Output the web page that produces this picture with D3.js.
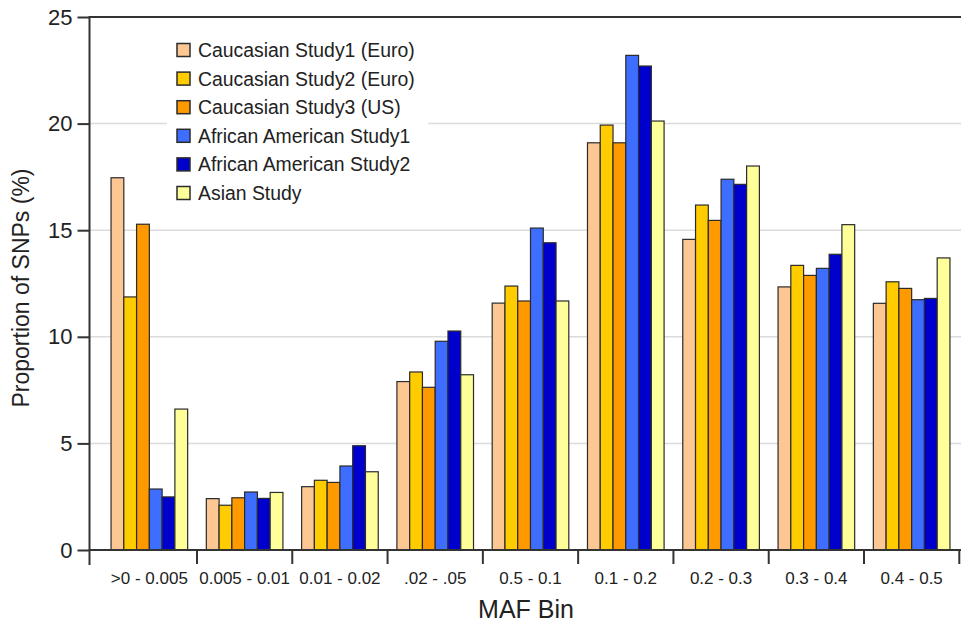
<!DOCTYPE html>
<html>
<head>
<meta charset="utf-8">
<script src="https://cdn.jsdelivr.net/npm/d3@7"></script>
<style>
  body { margin: 0; background: #fff; }
  svg { font-family: 'Liberation Sans', Arial, sans-serif; }
</style>
</head>
<body>
<svg id="chart" width="961" height="625"></svg>
<script>
const categories = ['>0 - 0.005', '0.005 - 0.01', '0.01 - 0.02', '.02 - .05', '0.5 - 0.1', '0.1 - 0.2', '0.2 - 0.3', '0.3 - 0.4', '0.4 - 0.5'];
const seriesNames = ['Caucasian Study1 (Euro)', 'Caucasian Study2 (Euro)', 'Caucasian Study3 (US)', 'African American Study1', 'African American Study2', 'Asian Study'];
const seriesColors = ['#FDC794', '#FFCC00', '#FF9900', '#3D6EFF', '#0000CC', '#FFFF99'];

const cauc1 = [17.46, 2.41, 2.97, 7.9, 11.58, 19.1, 14.57, 12.34, 11.57];
const cauc2 = [11.87, 2.1, 3.27, 8.35, 12.38, 19.93, 16.18, 13.35, 12.58];
const cauc3 = [15.28, 2.45, 3.17, 7.63, 11.68, 19.1, 15.46, 12.88, 12.27];
const afr1 = [2.86, 2.72, 3.94, 9.79, 15.1, 23.2, 17.39, 13.21, 11.74];
const afr2 = [2.49, 2.42, 4.89, 10.27, 14.41, 22.7, 17.15, 13.87, 11.8];
const asian = [6.61, 2.7, 3.67, 8.22, 11.68, 20.12, 18.01, 15.26, 13.7];
const yTicks = [0, 5, 10, 15, 20, 25];

const allSeries = [cauc1, cauc2, cauc3, afr1, afr2, asian];

const svg = d3.select('#chart');
const width = 961;
const yAxisX = 89.5;

const x0 = d3.scaleBand().domain(categories).range([101.7, 959.3]).padding(0);
const bw = x0.bandwidth();
const x1 = d3.scaleBand().domain(d3.range(seriesNames.length)).range([bw * 0.098, bw * 0.902]).padding(0);
const y = d3.scaleLinear().domain([0, 25]).range([550, 17]);

// gridlines
svg.append('g')
  .selectAll('line')
  .data(yTicks.filter((d) => d > 0 && d < 25))
  .enter()
  .append('line')
  .attr('x1', yAxisX)
  .attr('x2', width)
  .attr('y1', (d) => y(d))
  .attr('y2', (d) => y(d))
  .attr('stroke', '#dcdcdc')
  .attr('stroke-width', 1.5);

// legend background hides gridlines
svg.append('rect')
  .attr('x', 167)
  .attr('y', 24)
  .attr('width', 261)
  .attr('height', 188)
  .attr('fill', '#fff');

// bars
const groups = svg.append('g')
  .selectAll('g')
  .data(categories)
  .enter()
  .append('g')
  .attr('transform', (d) => `translate(${x0(d)},0)`);

groups.selectAll('rect')
  .data((d, i) => allSeries.map((s, k) => ({ k: k, v: s[i] })))
  .enter()
  .append('rect')
  .attr('x', (d) => x1(d.k))
  .attr('width', x1.bandwidth())
  .attr('y', (d) => y(d.v))
  .attr('height', (d) => y(0) - y(d.v))
  .attr('fill', (d) => seriesColors[d.k])
  .attr('stroke', '#2b2b2b')
  .attr('stroke-width', 1.2);

// top border line
svg.append('line')
  .attr('x1', yAxisX).attr('x2', width)
  .attr('y1', y(25)).attr('y2', y(25))
  .attr('stroke', '#333').attr('stroke-width', 2);

// x baseline
svg.append('line')
  .attr('x1', yAxisX).attr('x2', width)
  .attr('y1', y(0)).attr('y2', y(0))
  .attr('stroke', '#333').attr('stroke-width', 2);

// y axis
const yAxis = d3.axisLeft(y).tickValues(yTicks).tickSize(12).tickPadding(5).tickSizeOuter(0);
const yg = svg.append('g')
  .attr('transform', `translate(${yAxisX},0)`)
  .call(yAxis);
yg.select('.domain').remove();
yg.selectAll('.tick line').attr('stroke', '#333').attr('stroke-width', 2);
yg.selectAll('.tick text')
  .attr('font-size', 22)
  .attr('fill', '#222')
  .attr('font-family', "'Liberation Sans', Arial, sans-serif");

svg.append('line')
  .attr('x1', yAxisX).attr('x2', yAxisX)
  .attr('y1', y(25) - 1).attr('y2', 565)
  .attr('stroke', '#333').attr('stroke-width', 2);

// small right tick on zero
svg.append('line')
  .attr('x1', yAxisX).attr('x2', 100)
  .attr('y1', y(0)).attr('y2', y(0))
  .attr('stroke', '#333').attr('stroke-width', 2);

// x ticks at band boundaries
const boundaries = categories.slice(1).map((c) => x0(c)).concat([x0(categories[categories.length - 1]) + bw]);
svg.append('g')
  .selectAll('line')
  .data(boundaries)
  .enter()
  .append('line')
  .attr('x1', (d) => d)
  .attr('x2', (d) => d)
  .attr('y1', y(0))
  .attr('y2', 564)
  .attr('stroke', '#333')
  .attr('stroke-width', 2);

// x tick labels
svg.append('g')
  .selectAll('text')
  .data(categories)
  .enter()
  .append('text')
  .attr('x', (d) => x0(d) + bw / 2)
  .attr('y', 584)
  .attr('text-anchor', 'middle')
  .attr('font-size', 17)
  .attr('fill', '#222')
  .text((d) => d);

// axis titles
svg.append('text')
  .attr('x', 526)
  .attr('y', 618)
  .attr('text-anchor', 'middle')
  .attr('font-size', 25)
  .attr('fill', '#222')
  .text('MAF Bin');

svg.append('text')
  .attr('transform', `translate(29,288) rotate(-90)`)
  .attr('text-anchor', 'middle')
  .attr('font-size', 23)
  .attr('fill', '#222')
  .text('Proportion of SNPs (%)');

// legend
const legend = svg.append('g')
  .selectAll('g')
  .data(seriesNames)
  .enter()
  .append('g')
  .attr('transform', (d, i) => `translate(177,${50 + i * 28.6})`);

legend.append('rect')
  .attr('x', 0)
  .attr('y', -6.5)
  .attr('width', 13)
  .attr('height', 13)
  .attr('fill', (d, i) => seriesColors[i])
  .attr('stroke', '#2b2b2b')
  .attr('stroke-width', 1.5);

legend.append('text')
  .attr('x', 21)
  .attr('y', 7)
  .attr('font-size', 19.4)
  .attr('fill', '#222')
  .text((d) => d);
</script>
</body>
</html>
